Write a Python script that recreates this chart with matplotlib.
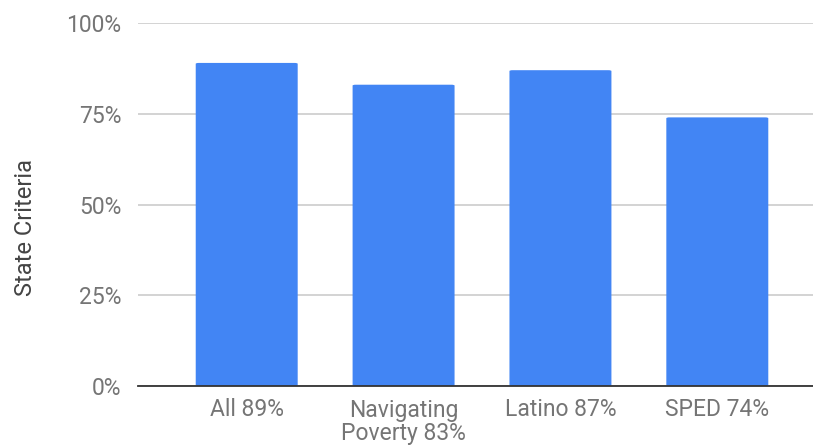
import matplotlib
matplotlib.use("Agg")
import matplotlib.pyplot as plt
from matplotlib.patches import FancyBboxPatch
from matplotlib.ticker import FuncFormatter

categories = ["All 89%", "Navigating\nPoverty 83%", "Latino 87%", "SPED 74%"]
values = [89, 83, 87, 74]
y_ticks = [0, 25, 50, 75, 100]
y_label = "State Criteria"

BAR = "#4285F4"
TEXT = "#757575"

plt.rcParams["font.family"] = ["Roboto", "DejaVu Sans"]

W, H = 813, 446
fig = plt.figure(figsize=(W / 100, H / 100), dpi=100)
ax = fig.add_axes([138 / W, (H - 386) / H, (813 - 138) / W, (386 - 23) / H])

width = 0.65
x = list(range(len(values)))
for xi, v in zip(x, values):
    patch = FancyBboxPatch((xi - width / 2, 0), width, v,
                           boxstyle="round,pad=0,rounding_size=0.02",
                           mutation_aspect=12,
                           facecolor=BAR, edgecolor="none", zorder=3)
    ax.add_patch(patch)

ax.set_xlim(-0.693, 3.61)
ax.set_ylim(0, 100)
ax.set_yticks(y_ticks)
ax.yaxis.set_major_formatter(FuncFormatter(lambda v, p: f"{int(v)}%"))
ax.set_xticks(x)
ax.set_xticklabels(categories, linespacing=1.05)

ax.grid(axis="y", color="#cccccc", linewidth=1.2, zorder=0)
ax.set_axisbelow(True)
for s in ["top", "right", "left"]:
    ax.spines[s].set_visible(False)
ax.spines["bottom"].set_color("#333333")
ax.spines["bottom"].set_linewidth(1.3)
ax.spines["bottom"].set_zorder(4)

ax.tick_params(axis="both", length=0, labelsize=16.5, labelcolor=TEXT)
ax.tick_params(axis="y", pad=12)
ax.tick_params(axis="x", pad=9)
for lbl in ax.get_xticklabels():
    lbl.set_verticalalignment("top")

fig.text(25 / W, 1 - 228 / H, y_label, rotation=90, ha="center", va="center",
         fontsize=17, color="#444444")

fig.savefig("out.png", dpi=100)
